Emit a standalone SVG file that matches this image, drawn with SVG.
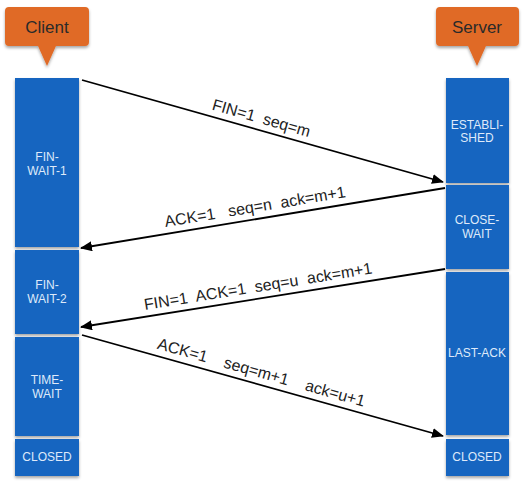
<svg xmlns="http://www.w3.org/2000/svg" width="526" height="486" viewBox="0 0 526 486">
<defs>
<filter id="sh" x="-20%" y="-20%" width="140%" height="140%">
<feDropShadow dx="0" dy="2" stdDeviation="1.5" flood-color="#000" flood-opacity="0.35"/>
</filter>
<marker id="ah" viewBox="0 0 12 10" refX="11" refY="5" markerWidth="12" markerHeight="10" markerUnits="userSpaceOnUse" orient="auto">
<path d="M0,0 L12,5 L0,10 Z" fill="#000"/>
</marker>
<style>
.st{fill:#1565c0;filter:url(#sh)}
.stt{font-family:"Liberation Sans",Arial,sans-serif;font-size:12px;fill:#dfeafa;text-anchor:middle}
.co{fill:#e06a26;filter:url(#sh)}
.cot{font-family:"Liberation Sans",Arial,sans-serif;font-size:17px;fill:#2a2a2a;text-anchor:middle}
.ln{stroke:#000;stroke-width:1.8;fill:none;marker-end:url(#ah)}
.lb{font-family:"Liberation Sans",Arial,sans-serif;font-size:16px;fill:#222;text-anchor:middle;white-space:pre}
</style>
</defs>
<rect width="526" height="486" fill="#fff"/>
<g id="client-callout">
<path class="co" d="M9,7 H85 Q89,7 89,11 V42 Q89,46 85,46 H56 L47,66 L38,46 H9 Q5,46 5,42 V11 Q5,7 9,7 Z"/>
<text class="cot" x="47" y="33">Client</text>
</g>
<g id="server-callout">
<path class="co" d="M440,7 H515 Q519,7 519,11 V42 Q519,46 515,46 H486 L477,66 L468,46 H440 Q436,46 436,42 V11 Q436,7 440,7 Z"/>
<text class="cot" x="477" y="33">Server</text>
</g>
<g id="client-fin-wait-1">
<rect class="st" x="15" y="78" width="64" height="169"/>
<text class="stt" x="47" y="161">FIN-</text>
<text class="stt" x="47" y="175">WAIT-1</text>
</g>
<g id="client-fin-wait-2">
<rect class="st" x="15" y="250" width="64" height="84"/>
<text class="stt" x="47" y="289">FIN-</text>
<text class="stt" x="47" y="303">WAIT-2</text>
</g>
<g id="client-time-wait">
<rect class="st" x="15" y="337" width="64" height="99"/>
<text class="stt" x="47" y="384">TIME-</text>
<text class="stt" x="47" y="398">WAIT</text>
</g>
<g id="client-closed">
<rect class="st" x="15" y="439" width="64" height="37"/>
<text class="stt" x="47" y="461">CLOSED</text>
</g>
<g id="server-established">
<rect class="st" x="446" y="78" width="63" height="105"/>
<text class="stt" x="477" y="129">ESTABLI-</text>
<text class="stt" x="477" y="142">SHED</text>
</g>
<g id="server-close-wait">
<rect class="st" x="446" y="185" width="63" height="84"/>
<text class="stt" x="477" y="224">CLOSE-</text>
<text class="stt" x="477" y="238">WAIT</text>
</g>
<g id="server-last-ack">
<rect class="st" x="446" y="272" width="63" height="163"/>
<text class="stt" x="477" y="357">LAST-ACK</text>
</g>
<g id="server-closed">
<rect class="st" x="446" y="439" width="63" height="37"/>
<text class="stt" x="477" y="461">CLOSED</text>
</g>
<g id="connectors">
<line class="ln" x1="82" y1="80" x2="443" y2="182"/>
<line class="ln" x1="445" y1="188" x2="81" y2="248"/>
<line class="ln" x1="445" y1="269" x2="81" y2="327"/>
<line class="ln" x1="82" y1="335" x2="443" y2="436"/>
<text class="lb" transform="translate(258,130) rotate(15.8)" y="-7">FIN=1  seq=m</text>
<text class="lb" transform="translate(257,219) rotate(-9.4)" y="-7">ACK=1   seq=n  ack=m+1</text>
<text class="lb" transform="translate(260,298.6) rotate(-9.1)" y="-7">FIN=1  ACK=1  seq=u  ack=m+1</text>
<text class="lb" transform="translate(258,384.4) rotate(15.7)" y="-7">ACK=1    seq=m+1    ack=u+1</text>
</g>
</svg>
